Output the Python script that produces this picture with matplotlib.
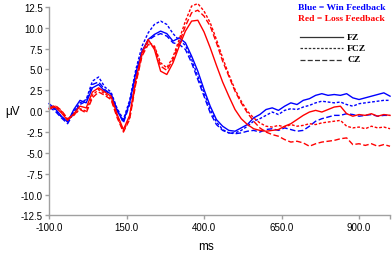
import matplotlib
matplotlib.use("Agg")
import matplotlib.pyplot as plt
from matplotlib.lines import Line2D

# time axis (ms), one sample every 20 ms
times = list(range(-100, 1001, 20))

# Win feedback (blue)
win_fz = [0.9, 0.3, -0.6, -1.3, 0.2, 1.3, 1.0, 2.8, 3.2, 2.4,
          2.1, 0.0, -1.2, 1.0, 4.6, 7.2, 8.6, 9.2, 9.6, 9.3,
          8.4, 8.8, 8.2, 6.6, 4.8, 2.6, 0.6, -1.0, -1.8, -2.3,
          -2.4, -2.0, -1.6, -0.8, -0.4, 0.2, 0.4, 0.1, 0.6, 1.0,
          0.8, 1.3, 1.5, 1.9, 2.1, 1.9, 2.0, 1.9, 2.1, 1.6,
          1.4, 1.6, 1.8, 2.0, 2.2, 1.8]
win_fcz = [0.6, 0.2, -0.7, -1.2, 0.0, 1.0, 1.4, 3.6, 4.1, 2.9,
           2.3, 0.3, -1.0, 1.3, 5.0, 7.8, 9.4, 10.4, 10.8, 10.4,
           9.3, 8.5, 7.9, 6.2, 4.2, 2.2, 0.2, -1.3, -2.2, -2.6,
           -2.6, -2.3, -1.8, -1.2, -0.9, -0.5, -0.1, -0.4, 0.1, 0.3,
           0.2, 0.5, 0.7, 1.0, 1.2, 1.1, 1.0, 1.1, 0.8, 0.6,
           0.9, 1.0, 1.1, 1.2, 1.3, 1.3]
win_cz = [0.5, 0.0, -0.8, -1.5, -0.2, 0.8, 1.2, 3.2, 3.5, 2.6,
          2.0, 0.2, -1.4, 0.8, 4.3, 7.0, 8.5, 9.0, 9.3, 9.0,
          8.2, 8.0, 7.4, 5.8, 3.8, 1.8, -0.2, -1.6, -2.3, -2.6,
          -2.7, -2.6, -2.4, -2.3, -2.5, -2.2, -2.1, -2.3, -2.0, -2.2,
          -2.4, -2.3, -1.8, -1.2, -0.9, -0.7, -0.5, -0.5, -0.3, -0.4,
          -0.6, -0.5, -0.4, -0.6, -0.5, -0.5]

# Loss feedback (red)
loss_fz = [0.3, 0.5, -0.2, -1.1, -0.3, 0.6, 0.4, 2.3, 2.8, 2.3,
           1.8, -0.4, -2.2, -0.5, 3.8, 7.0, 8.6, 7.4, 4.8, 4.4,
           5.8, 7.8, 9.6, 10.8, 10.9, 9.5, 7.6, 5.5, 3.5, 1.8,
           0.2, -0.9, -1.6, -2.1, -2.3, -2.4, -2.3, -2.2, -1.8, -1.5,
           -1.0, -0.5, -0.1, 0.1, -0.1, 0.2, 0.5, 0.6, -0.3, -0.6,
           -0.4, -0.5, -0.3, -0.6, -0.4, -0.5]
loss_fcz = [0.2, 0.6, 0.0, -1.0, -0.5, 0.3, 0.0, 1.9, 2.6, 2.1,
            1.6, -0.6, -2.4, -0.8, 3.5, 6.8, 8.3, 7.8, 5.8, 5.2,
            6.5, 8.6, 10.8, 12.6, 12.9, 12.0, 10.6, 8.6, 6.4, 4.4,
            2.6, 1.2, 0.0, -0.8, -1.4, -1.8, -1.9, -1.7, -1.9, -1.6,
            -1.8, -1.7, -1.5, -1.6, -1.4, -1.3, -1.2, -1.1, -1.8, -2.0,
            -1.9, -2.1, -1.8, -2.0, -1.9, -2.1]
loss_cz = [0.4, 0.7, 0.1, -0.9, -0.4, 0.2, -0.2, 1.6, 2.3, 1.9,
           1.4, -0.8, -2.5, -1.0, 3.3, 6.6, 8.0, 7.7, 5.4, 4.9,
           6.2, 8.2, 10.2, 11.8, 12.1, 11.4, 10.2, 8.2, 6.0, 4.2,
           2.4, 1.0, -0.2, -1.2, -2.0, -2.5, -2.8, -3.0, -3.4, -3.7,
           -3.6, -3.8, -4.2, -3.9, -3.7, -3.6, -3.5, -3.3, -3.2, -4.0,
           -3.9, -4.1, -3.9, -4.2, -4.0, -4.2]

x_ticks = [-100, 150, 400, 650, 900, 1000]
x_labels = ["-100.0", "150.0", "400.0", "650.0", "900.0", ""]
y_ticks = [-12.5, -10, -7.5, -5, -2.5, 0, 2.5, 5, 7.5, 10, 12.5]

styles = {"FZ": "-", "FCZ": (0, (2, 1.3)), "CZ": (0, (4, 1.8))}

fig = plt.figure(figsize=(3.92, 2.55), dpi=100)
ax = fig.add_axes([0.125, 0.151, 0.87, 0.818])

lw = 1.0
ax.plot(times, win_fz, color="#0000ff", lw=lw, ls=styles["FZ"], clip_on=False)
ax.plot(times, win_fcz, color="#0000ff", lw=lw, ls=styles["FCZ"], clip_on=False)
ax.plot(times, win_cz, color="#0000ff", lw=lw, ls=styles["CZ"], clip_on=False)
ax.plot(times, loss_fz, color="#ff0000", lw=lw, ls=styles["FZ"], clip_on=False)
ax.plot(times, loss_fcz, color="#ff0000", lw=lw, ls=styles["FCZ"], clip_on=False)
ax.plot(times, loss_cz, color="#ff0000", lw=lw, ls=styles["CZ"], clip_on=False)

ax.set_xlim(-100, 1000)
ax.set_ylim(-12.5, 12.5)
ax.set_xticks(x_ticks)
ax.set_xticklabels(x_labels)
ax.set_yticks(y_ticks)
ax.set_yticklabels([f"{v:.1f}" for v in y_ticks])

for side in ["top", "right"]:
    ax.spines[side].set_visible(False)
for side in ["left", "bottom"]:
    ax.spines[side].set_color("#a0a0a0")
    ax.spines[side].set_linewidth(1.0)
ax.tick_params(direction="out", length=3, width=1, color="#a0a0a0",
               labelsize=7, pad=1.5)
for lab in ax.get_xticklabels() + ax.get_yticklabels():
    lab.set_fontfamily("Liberation Sans")

fig.text(5 / 392, 1 - 112 / 255, "μV", fontsize=8.5, family="Liberation Sans",
         ha="left", va="center")
fig.text(206 / 392, 1 - 247 / 255, "ms", fontsize=8.5, family="Liberation Sans",
         ha="center", va="center")

# key
fig.text(298 / 392, 1 - 8 / 255, "Blue = Win Feedback", color="#0000ff",
         fontsize=6.8, family="Liberation Serif", weight="bold", va="center")
fig.text(298 / 392, 1 - 19.5 / 255, "Red = Loss Feedback", color="#ff0000",
         fontsize=6.8, family="Liberation Serif", weight="bold", va="center")
key_rows = [("FZ", 37.5), ("FCZ", 49), ("CZ", 60.5)]
for name, ypx in key_rows:
    yf = 1 - ypx / 255
    fig.add_artist(Line2D([300 / 392, 343 / 392], [yf, yf], color="#333333",
                          lw=0.9, ls=styles[name]))
    fig.text(347 / 392, yf, name, fontsize=6.8, family="Liberation Serif",
             weight="bold", va="center")

fig.savefig("out.png", dpi=100)
